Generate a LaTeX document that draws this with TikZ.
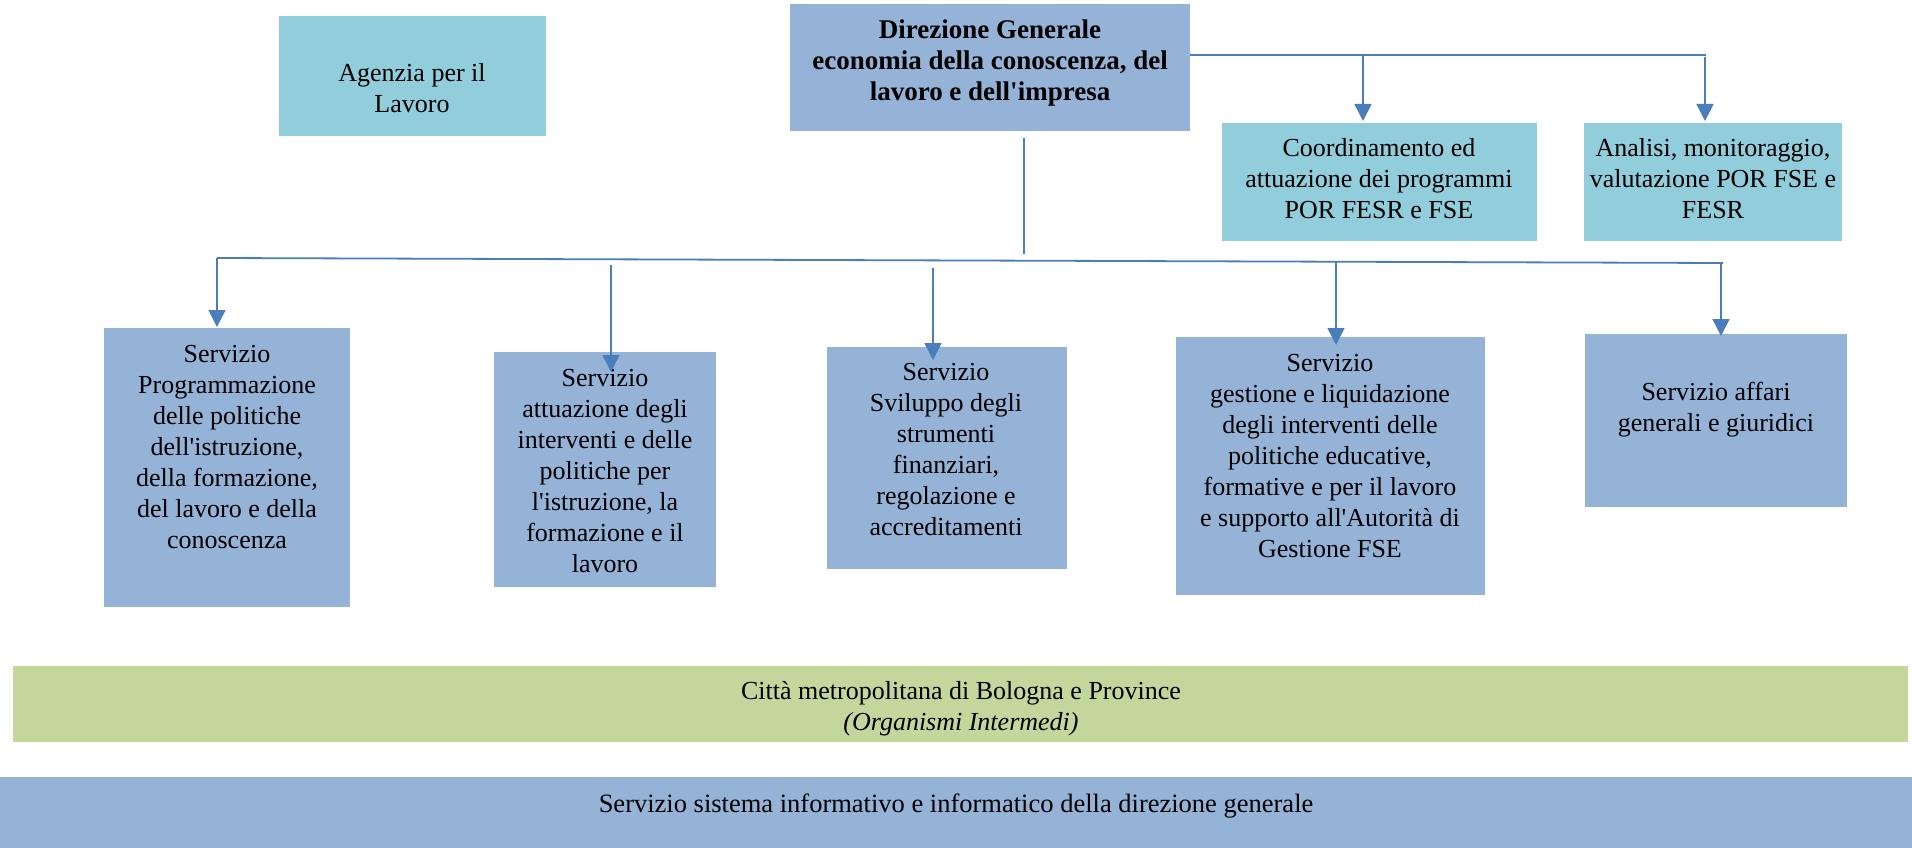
\documentclass[tikz,border=0pt]{standalone}
\usepackage{fontspec}
\setmainfont{Liberation Serif}
\usetikzlibrary{arrows.meta}
\definecolor{boxblue}{HTML}{95B3D7}
\definecolor{boxteal}{HTML}{92CDDC}
\definecolor{boxgreen}{HTML}{C3D69B}
\definecolor{linkblue}{HTML}{4A7EBB}
\newcommand{\ap}{\textquotesingle}
\begin{document}
\begin{tikzpicture}[x=1pt,y=-1pt,
  box/.style={draw=none, inner sep=0pt, outer sep=0pt},
  bluebox/.style={box, fill=boxblue},
  tealbox/.style={box, fill=boxteal},
  greenbox/.style={box, fill=boxgreen},
  txt/.style={align=center, inner sep=0pt, font=\fontsize{26}{31}\selectfont},
  link/.style={draw=linkblue, line width=1.8pt},
  arr/.style={draw=linkblue, line width=1.5pt, -{Triangle[length=17pt,width=17pt]}},
]
\useasboundingbox (0,0) rectangle (1912,848);

% top row
\node[tealbox, minimum width=267pt, minimum height=120pt] (ag) at (412.5,76) {};
\node[txt] (agt) at (412,88) {Agenzia per il\\Lavoro};

\node[bluebox, minimum width=400pt, minimum height=127pt] (dg) at (990,67.5) {};
\node[txt, font=\fontsize{27}{31}\selectfont\bfseries] (dgt) at (990,63)
  {Direzione Generale\\economia della conoscenza, del\\lavoro e dell\ap impresa};

\node[tealbox, minimum width=315pt, minimum height=118pt] (cod) at (1379.5,182) {};
\node[txt] (codt) at (1379,179) {Coordinamento ed\\attuazione dei programmi\\POR FESR e FSE};

\node[tealbox, minimum width=258pt, minimum height=118pt] (ana) at (1713,182) {};
\node[txt] (anat) at (1713,179) {Analisi, monitoraggio,\\valutazione POR FSE e\\FESR};

% services
\node[bluebox, minimum width=246pt, minimum height=279pt] (s1) at (227,467.5) {};
\node[txt] (s1t) at (227,447) {Servizio\\Programmazione\\delle politiche\\dell\ap istruzione,\\della formazione,\\del lavoro e della\\conoscenza};

\node[bluebox, minimum width=222pt, minimum height=235pt] (s2) at (605,469.5) {};
\node[txt] (s2t) at (605,471) {Servizio\\attuazione degli\\interventi e delle\\politiche per\\l\ap istruzione, la\\formazione e il\\lavoro};

\node[bluebox, minimum width=240pt, minimum height=222pt] (s3) at (947,458) {};
\node[txt] (s3t) at (946,450) {Servizio\\Sviluppo degli\\strumenti\\finanziari,\\regolazione e\\accreditamenti};

\node[bluebox, minimum width=309pt, minimum height=258pt] (s4) at (1330.5,466) {};
\node[txt] (s4t) at (1330,456) {Servizio\\gestione e liquidazione\\degli interventi delle\\politiche educative,\\formative e per il lavoro\\e supporto all\ap Autorità di\\Gestione FSE};

\node[bluebox, minimum width=262pt, minimum height=173pt] (s5) at (1716,420.5) {};
\node[txt] (s5t) at (1716,410) {Servizio affari\\generali e giuridici};

% bands
\node[greenbox, minimum width=1895pt, minimum height=76pt] (cm) at (960.5,704) {};
\node[txt] (cmt) at (961,709) {Città metropolitana di Bologna e Province\\\textit{(Organismi Intermedi)}};

\node[bluebox, minimum width=1912pt, minimum height=71pt] (si) at (956,812.5) {};
\node[txt, font=\fontsize{26.5}{31}\selectfont] (sit) at (956,806) {Servizio sistema informativo e informatico della direzione generale};

% upper connectors
\coordinate (tb) at (1706,55);
\coordinate (t1) at (1363,55);
\coordinate (t2) at (1705,57);
\draw[link] (dg.east |- tb) -- (tb);
\draw[arr] (t1) -- ([yshift=2pt]t1 |- cod.north);
\draw[arr] (t2) -- ([yshift=2pt]t2 |- ana.north);

% lower connectors
\coordinate (v1) at (1024,138);
\coordinate (v2) at (1024,254);
\draw[draw=linkblue, line width=1.5pt] (v1) -- (v2);
\coordinate (bl) at (217,258);
\coordinate (br) at (1723,263);
\draw[link] (bl) -- (br);

\coordinate (a2) at (611,265);
\coordinate (a3) at (933,268);
\coordinate (a4) at (1336,262);
\coordinate (a5) at (1721,263);
\draw[arr] (bl) -- ([yshift=1pt]bl |- s1.north);
\draw[arr] (a2) -- ([yshift=-20pt]a2 |- s2.north);
\draw[arr] (a3) -- ([yshift=-13pt]a3 |- s3.north);
\draw[arr] (a4) -- ([yshift=-8pt]a4 |- s4.north);
\draw[arr] (a5) -- ([yshift=-2pt]a5 |- s5.north);
\end{tikzpicture}
\end{document}
